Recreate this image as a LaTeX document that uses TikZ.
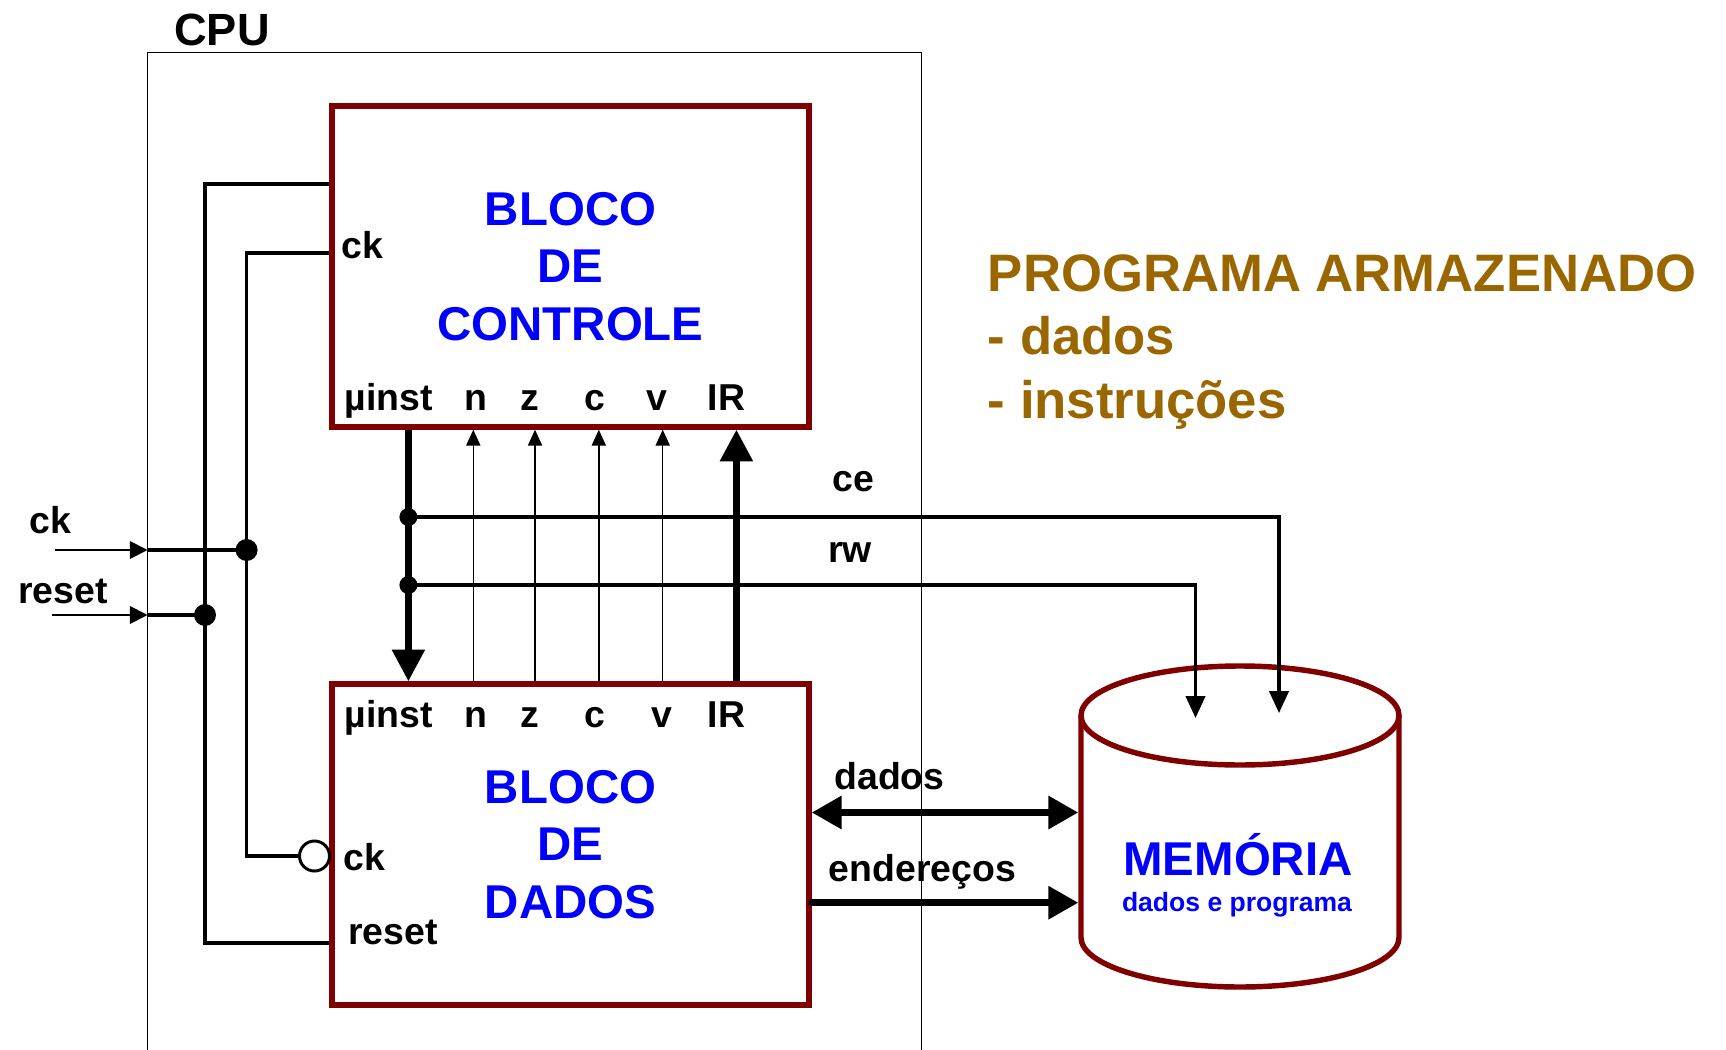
\documentclass[tikz,border=0pt]{standalone}
\usepackage{fontspec}
\setmainfont{Liberation Sans}
\usetikzlibrary{arrows.meta}

\definecolor{blkred}{RGB}{128,0,0}
\definecolor{txtblue}{RGB}{0,0,255}
\definecolor{progbrown}{RGB}{153,102,0}

\newcommand{\pinfont}{\fontsize{21.3}{25}\selectfont\bfseries}
\newcommand{\blkfont}{\fontsize{27}{32.7}\selectfont\bfseries}
\newcommand{\cpufont}{\fontsize{25.7}{30}\selectfont\bfseries}
\newcommand{\progfont}{\fontsize{30}{36}\selectfont\bfseries}
\newcommand{\memfont}{\fontsize{27}{32}\selectfont\bfseries}
\newcommand{\subfont}{\fontsize{15.1}{18}\selectfont\bfseries}

\tikzset{
  bloco/.style={draw=blkred, line width=3.1pt, minimum width=9.54cm,
    minimum height=6.42cm, align=center, text=txtblue, font=\blkfont},
  cpubox/.style={draw, line width=0.8pt, minimum width=15.48cm,
    minimum height=20.94cm, outer sep=0pt},
  memline/.style={draw=blkred, line width=3.1pt},
  lbl/.style={anchor=base, inner sep=0pt, font=\pinfont},
  wire/.style={line width=2pt},
  inarrow/.style={line width=1.1pt, -{Triangle[length=10pt,width=10pt]}},
  flag/.style={line width=0.8pt, -{Triangle[length=9pt,width=8pt]}},
  bus/.style={line width=3.7pt, -{Triangle[length=18pt,width=18pt]}},
  ctl/.style={line width=1.8pt, -{Triangle[length=12.5pt,width=11pt]}},
  dbus/.style={line width=4pt},
  dot/.style={circle, fill, inner sep=0pt, minimum size=0.44cm},
  sdot/.style={circle, fill, inner sep=0pt, minimum size=0.36cm}
}

\begin{document}
\begin{tikzpicture}[x=0.02cm, y=-0.02cm]
  \useasboundingbox (0,0) rectangle (1726,1050);

  % CPU frame (runs off the bottom)
  \node[cpubox, anchor=north west] (cpu) at (147.5,52.8) {};
  \node[lbl, font=\cpufont] (cpulab) at (222,46) {CPU};

  % blocks
  \node[bloco] (ctrl) at (570.5,266.5) {BLOCO\\DE\\CONTROLE};
  \node[bloco] (dat) at (570.5,844.5) {BLOCO\\DE\\DADOS};

  % memory cylinder
  \node[minimum width=6.36cm, minimum height=6.42cm, outer sep=1.55pt] (mem) at (1240,826.5) {};
  \draw[memline] (1081,715.5) -- (1081,937.5)
    arc[start angle=180, end angle=0, x radius=159, y radius=49.5]
    -- (1399,715.5);
  \draw[memline] (1240,715.5) ellipse[x radius=159, y radius=49.5];
  \node[lbl, font=\memfont, text=txtblue] (memlab) at (1238,875) {MEMÓRIA};
  \node[lbl, font=\subfont, text=txtblue] (memsub) at (1237,911.5) {dados e programa};

  % pins
  \foreach \lab/\x [count=\i] in {µinst/389, n/475.5, z/529.5, c/594.4, v/657, IR/726.5}
    \node[lbl] (cp\i) at (\x,410.6) {\lab};
  \foreach \lab/\x [count=\i] in {µinst/389, n/475.5, z/529.5, c/594.4, v/661.6, IR/726.5}
    \node[lbl] (dp\i) at (\x,727.6) {\lab};
  \node[lbl, anchor=base west] (cpck) at (341,258.7) {ck};
  \node[lbl, anchor=base west] (dpck) at (343.5,870.7) {ck};
  \node[lbl, anchor=base west] (dprst) at (348,944.5) {reset};

  % control <-> data
  \draw[bus] (ctrl.south -| 408.4,0) -- (dat.north -| 408.4,0);
  \draw[bus] (dat.north -| 736.4,0) -- (ctrl.south -| 736.4,0);
  \foreach \x in {473.3,535,598.8,662.7}
    \draw[flag] (dat.north -| \x,0) -- (ctrl.south -| \x,0);

  % ce and rw to memory
  \node[sdot] (cedot) at (408.4,517) {};
  \node[sdot] (rwdot) at (408.4,585) {};
  \coordinate (cein) at (1279,713);
  \coordinate (rwin) at (1195.5,718);
  \draw[ctl] (cedot.center) -| (cein);
  \draw[ctl] (rwdot.center) -| (rwin);
  \node[lbl] (celab) at (853,491) {ce};
  \node[lbl] (rwlab) at (850,562.5) {rw};

  % data and address buses
  \draw[dbus, {Triangle[length=17pt,width=18pt]}-{Triangle[length=17pt,width=18pt]}]
    (dat.east |- 0,812.5) -- (mem.west |- 0,812.5);
  \draw[dbus, line cap=round, -{Triangle[length=17pt,width=18pt]}]
    (dat.east |- 0,902.7) -- (mem.west |- 0,902.7);
  \node[lbl] (dadlab) at (889.5,789) {dados};
  \node[lbl] (endlab) at (922.5,881.7) {endereços};

  % ck and reset inputs
  \coordinate (ckin) at (55,550);
  \coordinate (rstin) at (52,615);
  \node[lbl] (cklab) at (50.6,533) {ck};
  \node[lbl] (rstlab) at (63,603) {reset};
  \node[dot] (ckdot) at (246.6,550) {};
  \node[dot] (rstdot) at (205,615) {};
  \node[circle, draw, line width=1.7pt, inner sep=0pt, minimum size=0.6cm] (inv) at (314.5,856) {};
  \draw[inarrow] (ckin) -- (ckin -| cpu.west);
  \draw[inarrow] (rstin) -- (rstin -| cpu.west);
  \draw[wire] (ckin -| cpu.west) -- (ckdot.center);
  \draw[wire] (rstin -| cpu.west) -- (rstdot.center);
  \draw[wire] (ctrl.west |- 0,253) -| (ckdot.center) |- (inv.west);
  \draw[wire] (ctrl.west |- 0,184) -| (rstdot.center) |- (dat.west |- 0,943);

  % stored program note
  \node[lbl, anchor=base west, font=\progfont, text=progbrown] (prog1) at (987.5,291.7) {PROGRAMA ARMAZENADO};
  \node[lbl, anchor=base west, font=\progfont, text=progbrown] (prog2) at (987.5,354.5) {- dados};
  \node[lbl, anchor=base west, font=\progfont, text=progbrown] (prog3) at (987.5,418.3) {- instruções};
\end{tikzpicture}
\end{document}
